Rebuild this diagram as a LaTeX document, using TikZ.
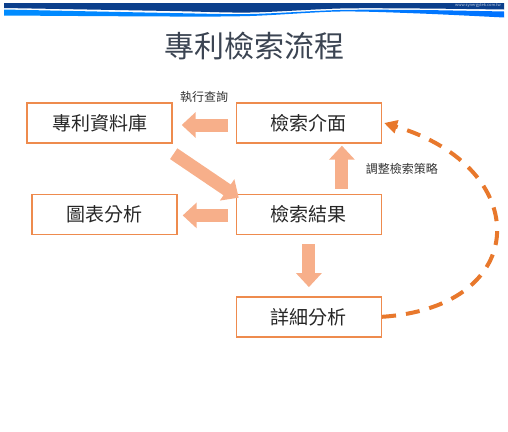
\documentclass[tikz,border=0pt]{standalone}
\usepackage{fontspec}
\setmainfont{Noto Sans CJK TC}
\usetikzlibrary{arrows.meta,positioning}
\definecolor{borde}{HTML}{EE8B4E}
\definecolor{bloque}{HTML}{F7AF8A}
\definecolor{trazo}{HTML}{E8782C}
\definecolor{marino}{HTML}{0B3F8C}
\definecolor{titulo}{HTML}{3B4452}

\begin{document}
\begin{tikzpicture}[x=1pt,y=-1pt,
    caja/.style={draw=borde,line width=1.4pt,minimum width=145pt,minimum height=40pt,inner sep=0pt,font=\fontsize{19}{19}\selectfont,text=black!85},
    flecha/.style={line width=13pt,bloque,-{Triangle[length=14pt,width=25pt]}},
    vuelta/.style={trazo,line width=4pt,dash pattern=on 14pt off 10pt,-{Triangle[length=13pt,width=13pt]}},
    nota/.style={font=\fontsize{12}{12}\selectfont,text=black!80}]
    \useasboundingbox (0,0) rectangle (508,431);
    \fill[marino] (4,3) -- (504,3) -- plot[smooth] coordinates {(504,9.5) (420,8.5) (340,8.5) (250,12.5) (170,11) (4,8)} -- cycle;
    \shade[left color=cyan!55!blue,middle color=yellow!45,right color=cyan!45!blue] plot[smooth] coordinates {(4,9.5) (170,13) (250,14) (340,10) (420,10) (504,11.5)} -- plot[smooth] coordinates {(504,17.5) (420,13.5) (340,11.5) (250,16) (170,16.5) (4,15.5)} -- cycle;
    \node[font=\fontsize{4}{4}\selectfont,text=white!75!marino] (web) at (478,5.5) {www.synergytek.com.tw};
    \node[font=\fontsize{30}{30}\selectfont,text=titulo] (tit) at (254,46) {專利檢索流程};
    \node[caja] (db) at (99.5,123) {專利資料庫};
    \node[caja,right=63pt of db] (iface) {檢索介面};
    \node[caja,below=50pt of iface] (res) {檢索結果};
    \node[caja,left=58pt of res] (chart) {圖表分析};
    \node[caja,below=61pt of res] (det) {詳細分析};
    \draw[flecha,shorten <=8pt,shorten >=9pt] ([yshift=-2pt]iface.west) -- ([yshift=-2pt]db.east) node[nota,midway,yshift=28pt] (q) {執行查詢};
    \draw[flecha] ([shift={(1,10)}]db.south east) -- ([shift={(3,4)}]res.north west);
    \draw[flecha,shorten <=8pt,shorten >=5pt] ([yshift=-1pt]res.west) -- ([yshift=-1pt]chart.east);
    \draw[flecha,shorten <=5pt,shorten >=2pt] ([xshift=33pt]res.north) -- ([xshift=33pt]iface.south) node[nota,midway,xshift=60pt] (adj) {調整檢索策略};
    \draw[flecha,shorten <=9pt,shorten >=9pt] (res.south) -- (det.north);
    \draw[vuelta] (det.east) .. controls +(150,-10) and +(150,45) .. ([xshift=2pt]iface.east);
  \end{tikzpicture}
\end{document}
